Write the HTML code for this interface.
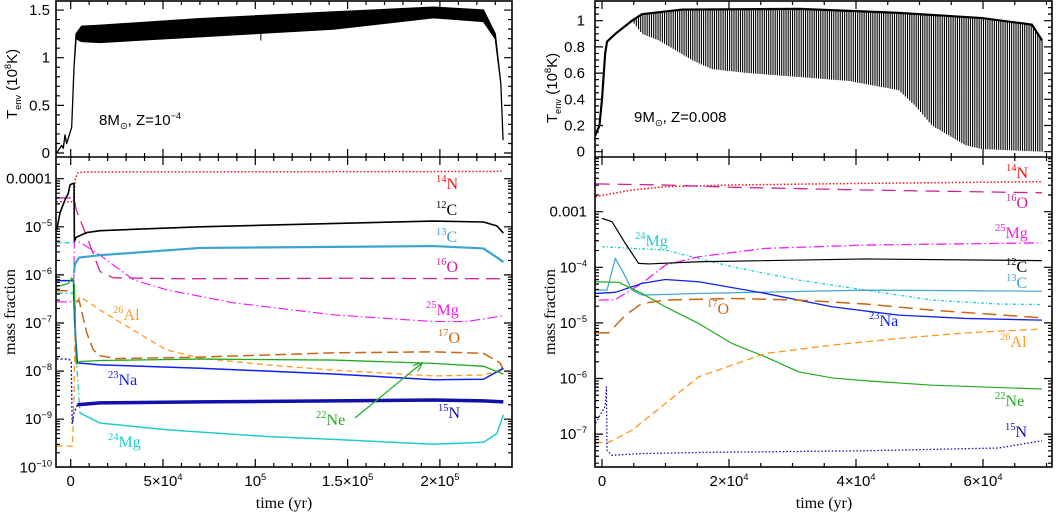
<!DOCTYPE html>
<html><head><meta charset="utf-8"><style>
html,body{margin:0;padding:0;background:#fff;}
svg{display:block;}
text{font-family:"Liberation Sans",sans-serif;}
.iso{font-family:"Liberation Serif",serif;font-size:16px;}
</style></head><body>
<svg id="fig" width="1064" height="513" viewBox="0 0 1064 513" xmlns="http://www.w3.org/2000/svg">
<defs>
<clipPath id="cLT"><rect x="56" y="1" width="456" height="156"/></clipPath>
<clipPath id="cLB"><rect x="56" y="157" width="456" height="310"/></clipPath>
<clipPath id="cRT"><rect x="595" y="1" width="457" height="156"/></clipPath>
<clipPath id="cRB"><rect x="595" y="157" width="457" height="310"/></clipPath>
<marker id="arrowG" markerWidth="10" markerHeight="8" refX="9" refY="4" orient="auto" markerUnits="userSpaceOnUse"><path d="M0,0 L10,4 L0,8" fill="none" stroke="#22aa22" stroke-width="1.2"/></marker>
</defs>
<g id="marks"></g>
<g id="axes"></g>
<g id="labels"></g>
</svg>
<script>
// ===== DATA: left top (8 Msun, Z=1e-4) T_env band =====
const ltT  = [-7600,-4900,-4000,-3100,-2200,530,1800,2900,5900,15880,70060,142300,196500,223600,230000,233000,234200];
const ltHi = [0.0,0.08,0.05,0.19,0.1,0.27,0.9,1.25,1.33,1.34,1.41,1.48,1.53,1.5,1.25,0.73,0.14];
const ltLo = [0.0,0.08,0.05,0.19,0.1,0.27,0.9,1.2,1.17,1.16,1.22,1.3,1.42,1.38,1.2,0.73,0.14];
// ===== DATA: right top (9 Msun, Z=0.008) T_env =====
const rtT   = [-1100,-400,0,500,790,2100,4724,6300,12600,31000,46700,59840,67700,69300];
const rtHi  = [0.12,0.2,0.4,0.75,0.84,0.9,1.0,1.05,1.085,1.09,1.06,1.02,0.97,0.85];
const rtMinT = [4724,6300,8924,14173,17323,23100,30970,38850,46720,49340,51970,57220,59840,69300];
const rtMinV = [1.0,0.9,0.85,0.7,0.63,0.6,0.57,0.54,0.47,0.35,0.2,0.05,0.02,0.0];
const rtPulseStart = 4724, rtPulseEnd = 69300, rtPulseCount = 190;

// ===== DATA: left bottom abundances (log10 mass fraction) =====
const L_14N_t=[-7600,1500,2500,4000,10000,230000,234000];
const L_14N=[-4.48,-4.48,-4.0,-3.87,-3.86,-3.85,-3.84];
const L_12C_t=[-7600,-5800,-3090,-1280,-380,1070,1800,2000,2880,8660,15880,70060,196500,223600,230800,234400];
const L_12C=[-5.07,-4.71,-4.44,-4.3,-4.13,-4.1,-4.1,-5.3,-5.22,-5.12,-5.08,-5.0,-4.88,-4.9,-4.98,-5.13];
const L_13Cpre_t=[-7600,1500];
const L_13Cpre=[-5.33,-5.33];
const L_13C_t=[1800,2400,4500,15880,70060,196500,223600,234400];
const L_13C=[-5.96,-5.77,-5.64,-5.59,-5.44,-5.40,-5.45,-5.73];
const L_16O_t=[-7600,1800,3000,8660,15880,23100,60000,150000,234400];
const L_16O=[-4.40,-4.40,-4.65,-5.2,-5.93,-6.06,-6.08,-6.07,-6.08];
const L_25Mg_t=[-7600,1500,2000,2700,8660,15880,33940,51990,88100,142300,196500,214500,234400];
const L_25Mg=[-6.56,-6.56,-5.3,-5.27,-5.41,-5.59,-6.1,-6.31,-6.58,-6.83,-6.97,-6.97,-6.85];
const L_26Al_t=[-7600,1000,1800,2600,5040,15880,33940,51990,70060,106200,142300,196500,223600,234400];
const L_26Al=[-9.56,-9.56,-8.5,-6.6,-6.45,-6.73,-7.15,-7.56,-7.73,-7.87,-7.98,-8.1,-8.08,-7.98];
const L_17O_t=[-7600,1500,2200,4500,8660,12270,15880,24900,70060,142300,196500,223600,232600,234400];
const L_17O=[-6.33,-6.33,-6.6,-6.52,-7.2,-7.56,-7.68,-7.74,-7.71,-7.62,-7.6,-7.63,-7.83,-7.98];
const L_22Ne_t=[-7600,-1300,600,2000,3000,5040,15880,70060,142300,196500,223600,234400];
const L_22Ne=[-6.25,-6.18,-6.06,-6.2,-7.85,-7.8,-7.78,-7.75,-7.77,-7.84,-7.9,-8.06];
const L_23Na_t=[-7600,1500,2200,3600,15880,70060,142300,196500,223600,234400];
const L_23Na=[-6.12,-6.12,-7.0,-7.83,-7.87,-7.94,-8.06,-8.18,-8.17,-7.94];
const L_15Npre_t=[-7600,-1000,300,800,1500,3600];
const L_15Npre=[-7.75,-7.75,-7.8,-9.1,-8.9,-8.7];
const L_15N_t=[3600,15880,70060,142300,196500,223600,234400];
const L_15N=[-8.7,-8.66,-8.64,-8.62,-8.6,-8.62,-8.64];
const L_24Mgpre_t=[-7600,1500,2600,5040];
const L_24Mgpre=[-6.38,-6.38,-7.5,-8.87];
const L_24Mg_t=[5040,15880,51990,106200,142300,196500,223600,230800,234400];
const L_24Mg=[-8.87,-9.08,-9.22,-9.36,-9.42,-9.52,-9.48,-9.3,-8.91];

// ===== DATA: right bottom abundances =====
const R_14N_t=[-1000,4724,9974,20472,41470,69291];
const R_14N=[-2.73,-2.61,-2.55,-2.52,-2.49,-2.46];
const R_16O_t=[-1000,9974,20472,41470,69291];
const R_16O=[-2.50,-2.52,-2.56,-2.61,-2.66];
const R_12C_t=[0,1575,3675,5774,7350,15223,41470,69291];
const R_12C=[-3.12,-3.18,-3.57,-3.93,-3.94,-3.90,-3.85,-3.88];
const R_24Mg_t=[0,9974,20472,30971,41470,51968,62467,69291];
const R_24Mg=[-3.63,-3.69,-3.99,-4.23,-4.41,-4.59,-4.66,-4.67];
const R_25Mg_t=[-500,2100,6300,9974,15223,25722,41470,69291];
const R_25Mg=[-4.59,-4.58,-4.29,-3.96,-3.81,-3.66,-3.60,-3.56];
const R_13C_t=[-1000,787,2100,3412,4724,6300,15223,41470,69291];
const R_13C=[-4.41,-4.41,-3.84,-4.11,-4.41,-4.50,-4.47,-4.41,-4.43];
const R_23Na_t=[-1000,2100,6300,9974,15223,25722,36220,46720,57220,69291];
const R_23Na=[-4.47,-4.45,-4.29,-4.22,-4.26,-4.47,-4.71,-4.86,-4.92,-4.95];
const R_22Ne_t=[-1000,2625,6300,9974,15223,20472,25722,30971,36220,41470,51968,69291];
const R_22Ne=[-4.26,-4.27,-4.47,-4.71,-5.01,-5.37,-5.61,-5.88,-5.99,-6.04,-6.12,-6.19];
const R_17O_t=[-1000,1050,3675,6300,9974,20472,30971,41470,51968,69291];
const R_17O=[-5.18,-5.18,-4.86,-4.65,-4.59,-4.56,-4.59,-4.66,-4.77,-4.91];
const R_26Al_t=[-1000,1050,4724,9974,15223,20472,25722,36220,46720,57220,69291];
const R_26Al=[-7.15,-7.15,-6.93,-6.45,-5.97,-5.76,-5.55,-5.40,-5.28,-5.18,-5.11];
const R_15N_t=[-1000,500,700,790,1575,4724,6300,15223,41470,62467,69291];
const R_15N=[-6.8,-6.5,-6.15,-7.29,-7.38,-7.36,-7.35,-7.33,-7.30,-7.25,-7.12];

// ===== axes functions =====
const xL=t=>70.7+t*0.001846, yLT=v=>153-v*95.3, yLB=g=>467.3-(g+10)*48.1;
const xR=t=>602+t*0.00635, yRT=v=>151.7-v*131, yRB=g=>211.7-(g+3)*55.6;
const NS="http://www.w3.org/2000/svg";
const marks=document.getElementById('marks'), axes=document.getElementById('axes'), labels=document.getElementById('labels');
function mk(tag,attrs,parent){const e=document.createElementNS(NS,tag);for(const k in attrs)e.setAttribute(k,attrs[k]);parent.appendChild(e);return e;}
function pathD(ts,vs,fx,fy){return ts.map((t,i)=>(i?'L':'M')+fx(t).toFixed(2)+','+fy(vs[i]).toFixed(2)).join('');}

const gLT=mk('g',{'clip-path':'url(#cLT)'},marks);


const gLB=mk('g',{'clip-path':'url(#cLB)'},marks);


const gRT=mk('g',{'clip-path':'url(#cRT)'},marks);


const gRB=mk('g',{'clip-path':'url(#cRB)'},marks);



{
  let d=pathD(ltT,ltHi,xL,yLT);
  for(let i=ltT.length-1;i>=0;i--) d+='L'+xL(ltT[i]).toFixed(2)+','+yLT(ltLo[i]).toFixed(2);
  const p=mk('path',{d:d+'Z',fill:'#000',stroke:'#000','stroke-width':1.3,'stroke-linejoin':'round'},gLT);
  
  
  const s=mk('line',{x1:xL(103000),x2:xL(103000),y1:yLT(1.4),y2:yLT(1.18),stroke:'#000','stroke-width':1},gLT);
  
  
}
{
  const interp=(ts,vs,t)=>{if(t<=ts[0])return vs[0];for(let i=1;i<ts.length;i++)if(t<=ts[i]){const f=(t-ts[i-1])/(ts[i]-ts[i-1]);return vs[i-1]+f*(vs[i]-vs[i-1]);}return vs[vs.length-1];};
  let d='';
  for(let k=0;k<rtPulseCount;k++){
    const t=rtPulseStart+(rtPulseEnd-rtPulseStart)*k/(rtPulseCount-1);
    d+='M'+xR(t).toFixed(2)+','+yRT(interp(rtT,rtHi,t)).toFixed(2)+'V'+yRT(interp(rtMinT,rtMinV,t)).toFixed(2);
  }
  const sp=mk('path',{d:d,stroke:'#000','stroke-width':1.1,fill:'none'},gRT);
  
  
  const p=mk('path',{d:pathD(rtT,rtHi,xR,yRT),fill:'none',stroke:'#000','stroke-width':2.2},gRT);
  
  
}
function series(g,ts,vs,fx,fy,color,dash,w,name){
  const a={d:pathD(ts,vs,fx,fy),fill:'none',stroke:color,'stroke-width':w,'stroke-linejoin':'round'};
  if(dash)a['stroke-dasharray']=dash;
  const p=mk('path',a,g);
  
  
}
series(gLB,L_14N_t,L_14N,xL,yLB,'#ee1111','1.5,2',1.5,'line-14n-left');
series(gLB,L_16O_t,L_16O,xL,yLB,'#cc2299','14,7',1.3,'line-16o-left');
series(gLB,L_25Mg_t,L_25Mg,xL,yLB,'#ee22ee','10,3,1.5,3',1.2,'line-25mg-left');
series(gLB,L_26Al_t,L_26Al,xL,yLB,'#ff9922','6,4',1.3,'line-26al-left');
series(gLB,L_17O_t,L_17O,xL,yLB,'#cc6611','11,5',1.5,'line-17o-left');
series(gLB,L_24Mgpre_t,L_24Mgpre,xL,yLB,'#22cccc','6,3,1.5,3',1.3,'line-24mg-left-early');
series(gLB,L_24Mg_t,L_24Mg,xL,yLB,'#22cccc',null,1.5,'line-24mg-left');
series(gLB,L_15Npre_t,L_15Npre,xL,yLB,'#1111aa','2,2',1.3,'line-15n-left-early');
series(gLB,L_15N_t,L_15N,xL,yLB,'#1111aa',null,3.5,'line-15n-left');
series(gLB,L_23Na_t,L_23Na,xL,yLB,'#1122ee',null,1.5,'line-23na-left');
series(gLB,L_22Ne_t,L_22Ne,xL,yLB,'#22aa22',null,1.3,'line-22ne-left');
series(gLB,L_13Cpre_t,L_13Cpre,xL,yLB,'#22cccc','5,3',1.3,'line-13c-left-early');
series(gLB,L_13C_t,L_13C,xL,yLB,'#3ba3d0',null,2.2,'line-13c-left');
series(gLB,L_12C_t,L_12C,xL,yLB,'#000000',null,1.6,'line-12c-left');

series(gRB,R_14N_t,R_14N,xR,yRB,'#ee1111','1.5,2',1.5,'line-14n-right');
series(gRB,R_16O_t,R_16O,xR,yRB,'#cc2299','14,8',1.3,'line-16o-right');
series(gRB,R_24Mg_t,R_24Mg,xR,yRB,'#22cccc','3,2,1,2',1.3,'line-24mg-right');
series(gRB,R_25Mg_t,R_25Mg,xR,yRB,'#ee22ee','10,3,1.5,3',1.3,'line-25mg-right');
series(gRB,R_12C_t,R_12C,xR,yRB,'#000000',null,1.2,'line-12c-right');
series(gRB,R_13C_t,R_13C,xR,yRB,'#3ba3d0',null,1.2,'line-13c-right');
series(gRB,R_23Na_t,R_23Na,xR,yRB,'#1122ee',null,1.3,'line-23na-right');
series(gRB,R_22Ne_t,R_22Ne,xR,yRB,'#22aa22',null,1.2,'line-22ne-right');
series(gRB,R_17O_t,R_17O,xR,yRB,'#cc6611','14,7',1.5,'line-17o-right');
series(gRB,R_26Al_t,R_26Al,xR,yRB,'#ff9922','7,4',1.3,'line-26al-right');
series(gRB,R_15N_t,R_15N,xR,yRB,'#1111aa','1.5,2',1.3,'line-15n-right');

function frame(x0,x1,y0,ym,y1,name){
  const r=mk('rect',{x:x0,y:y0,width:x1-x0,height:y1-y0,fill:'none',stroke:'#000','stroke-width':1.6},axes);
  
  
  const l=mk('line',{x1:x0,x2:x1,y1:ym,y2:ym,stroke:'#000','stroke-width':1.6},axes);
  
  
}
frame(56,512,1,157,467,'left-panel');
frame(595,1052,1,157,467,'right-panel');
let tickD='';
function xticks(fx,x0,x1,tops,bots,step,majStep,t0){
  for(let t=t0;fx(t)<=x1;t+=step){const x=fx(t);if(x<x0)continue;const L=(Math.abs(t%majStep)<1e-6)?8:4;
    tops.forEach(y=>{tickD+='M'+x+','+y+'v'+L;});bots.forEach(y=>{tickD+='M'+x+','+y+'v'+(-L);});}
}
function yticks(fy,xl,xr,ya,yb,vals,majors){
  vals.forEach(v=>{const y=fy(v);if(y<ya||y>yb)return;const L=majors.some(m=>Math.abs(m-v)<1e-9)?8:4;tickD+='M'+xl+','+y+'h'+L+'M'+xr+','+y+'h'+(-L);});
}
xticks(xL,56,512,[1,157],[157,467],10000,50000,-10000);
xticks(xR,595,1052,[1,157],[157,467],5000,20000,-5000);
{const v=[],m=[0,0.5,1,1.5];for(let i=0;i<=16;i++)v.push(i/10);yticks(yLT,56,512,1,157,v,m);}
{const v=[],m=[0,0.2,0.4,0.6,0.8,1];for(let i=0;i<=23;i++)v.push(i*0.05);yticks(yRT,595,1052,1,157,v,m);}
function logticks(fy,xl,xr,ya,yb,d0,d1){const v=[],m=[];for(let d=d0;d<=d1;d++){m.push(d);for(let k=1;k<10;k++)v.push(d+Math.log10(k));}yticks(fy,xl,xr,ya+1,yb-1,v,m);}
logticks(yLB,56,512,157,467,-10,-4);
logticks(yRB,595,1052,157,467,-8,-3);
{const p=mk('path',{d:tickD,stroke:'#000','stroke-width':1.2,fill:'none'},axes);

}

function txt(x,y,parts,anchor,size,name,cls,color,rot){
  const a={x:x,y:y,'text-anchor':anchor,'font-size':size,fill:color||'#000'};
  if(cls)a['class']=cls;
  if(rot)a.transform='rotate(-90 '+x+' '+y+')';
  const t=mk('text',a,labels);
  
  
  parts.forEach(p=>{const s=mk('tspan',{},t);s.textContent=p[0];
    if(p[1]==='sup'){s.setAttribute('font-size',size*0.62);s.setAttribute('dy',-size*0.4);}
    else if(p[1]==='sub'){s.setAttribute('font-size',size*0.62);s.setAttribute('dy',size*0.25);}
    else if(p[1]==='back'){s.setAttribute('dy',size*0.4);}
    else if(p[1]==='backsub'){s.setAttribute('dy',-size*0.25);}
  });
  return t;
}
const ltTicks=[0,0.5,1,1.5], ltTickLab=['0','0.5','1','1.5'];
ltTicks.forEach((v,i)=>txt(50,yLT(v)+5,[[ltTickLab[i]]],'end',15,'y-tick-left-top-'+i));
const rtTicks=[0,0.2,0.4,0.6,0.8,1], rtTickLab=['0','0.2','0.4','0.6','0.8','1'];
rtTicks.forEach((v,i)=>txt(585,yRT(v)+5,[[rtTickLab[i]]],'end',15,'y-tick-right-top-'+i));
const lbTicks=[-4,-5,-6,-7,-8,-9,-10];
lbTicks.forEach((g,i)=>{const p=g===-4?[['0.0001']]:[['10'],['\u2212'+(-g),'sup']];txt(52,yLB(g)+5,p,'end',15,'y-tick-left-bottom-'+i);});
const rbTicks=[-3,-4,-5,-6,-7];
rbTicks.forEach((g,i)=>{const p=g===-3?[['0.001']]:[['10'],['\u2212'+(-g),'sup']];txt(587,yRB(g)+5,p,'end',15,'y-tick-right-bottom-'+i);});
const lxTicks=[0,50000,100000,150000,200000];
const lxLab=[[['0']],[['5\u00d710'],['4','sup']],[['10'],['5','sup']],[['1.5\u00d710'],['5','sup']],[['2\u00d710'],['5','sup']]];
lxTicks.forEach((t,i)=>txt(xL(t),486,lxLab[i],'middle',15,'x-tick-left-'+i));
const rxTicks=[0,20000,40000,60000];
const rxLab=[[['0']],[['2\u00d710'],['4','sup']],[['4\u00d710'],['4','sup']],[['6\u00d710'],['4','sup']]];
rxTicks.forEach((t,i)=>txt(xR(t),486,rxLab[i],'middle',15,'x-tick-right-'+i));

txt(284,508,[['time (yr)']],'middle',17,'x-axis-title-left','iso');
txt(824,508,[['time (yr)']],'middle',17,'x-axis-title-right','iso');
txt(15,312,[['mass fraction']],'middle',17,'y-axis-title-left-bottom','iso',null,true);
txt(555,312,[['mass fraction']],'middle',17,'y-axis-title-right-bottom','iso',null,true);
txt(17,84,[['T'],['env','sub'],['  (10','backsub'],['8','sup'],['K)','back']],'middle',15,'y-axis-title-left-top',null,null,true);
txt(557,88,[['T'],['env','sub'],['  (10','backsub'],['8','sup'],['K)','back']],'middle',15,'y-axis-title-right-top',null,null,true);
txt(99,125,[['8M'],['\u2299','sub'],[',  Z=10','backsub'],['\u22124','sup']],'start',15,'model-label-8msun');
txt(634,122,[['9M'],['\u2299','sub'],[',  Z=0.008','backsub']],'start',15,'model-label-9msun');

function iso(x,y,m,el,color,name){txt(x,y,[[m,'sup'],[el,'back']],'start',17,name,'iso',color);}
iso(436,189,'14','N','#ee1111','label-14n-left');
iso(436,215,'12','C','#000','label-12c-left');
iso(436,242,'13','C','#3ba3d0','label-13c-left');
iso(436,272,'16','O','#cc2299','label-16o-left');
iso(426,315,'25','Mg','#ee22ee','label-25mg-left');
iso(438,343,'17','O','#cc6611','label-17o-left');
iso(113,320,'26','Al','#ff9922','label-26al-left');
iso(108,385,'23','Na','#1122ee','label-23na-left');
iso(316,425,'22','Ne','#22aa22','label-22ne-left');
iso(438,418,'15','N','#1111aa','label-15n-left');
iso(108,447,'24','Mg','#22cccc','label-24mg-left');
iso(1006,178,'14','N','#ee1111','label-14n-right');
iso(1006,208,'16','O','#cc2299','label-16o-right');
iso(995,238,'25','Mg','#ee22ee','label-25mg-right');
iso(635,246,'24','Mg','#22cccc','label-24mg-right');
iso(1006,272,'12','C','#000','label-12c-right');
iso(1006,288,'13','C','#3ba3d0','label-13c-right');
iso(707,314,'17','O','#cc6611','label-17o-right');
iso(869,326,'23','Na','#1122ee','label-23na-right');
iso(1000,347,'26','Al','#ff9922','label-26al-right');
iso(995,406,'22','Ne','#22aa22','label-22ne-right');
iso(1005,437,'15','N','#1111aa','label-15n-right');
{const a=mk('line',{x1:355,y1:418,x2:422,y2:363,stroke:'#22aa22','stroke-width':1.2,'marker-end':'url(#arrowG)'},labels);

}
</script>
</body></html>
